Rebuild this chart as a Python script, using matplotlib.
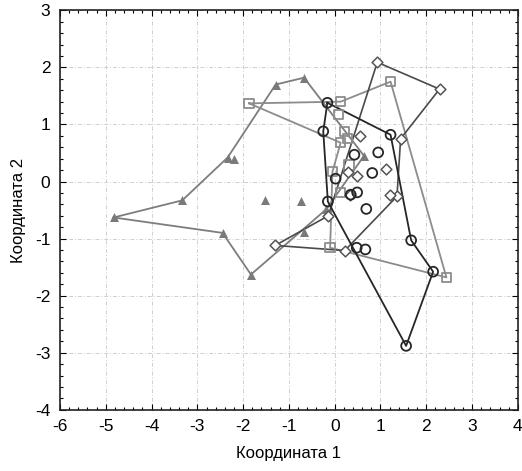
import matplotlib
matplotlib.use("Agg")
import matplotlib.pyplot as plt
from matplotlib.ticker import MultipleLocator

plt.rcParams['font.family'] = ['Liberation Sans', 'DejaVu Sans']
plt.rcParams['axes.unicode_minus'] = False

# Group 1: filled triangles
tri_x = [-4.83, -3.33, -2.34, -2.21, -1.29, -0.67, 0.64, -0.19, -1.83, -2.45, -1.52, -0.73, -0.68]
tri_y = [-0.63, -0.33, 0.42, 0.39, 1.70, 1.82, 0.45, -0.49, -1.63, -0.90, -0.32, -0.34, -0.88]
tri_outline = [0, 1, 2, 4, 5, 6, 7, 8, 9, 0]

# Group 2: open squares
sq_x = [-1.87, 0.13, 1.22, 2.44, -0.10, -0.05, 0.13, 0.08, 0.22, 0.28, 0.31, 0.13]
sq_y = [1.37, 1.40, 1.75, -1.68, -1.16, 0.17, 0.68, 1.18, 0.88, 0.75, 0.29, -0.19]
sq_outline = [0, 1, 2, 3, 4, 5, 6, 0]

# Group 3: open diamonds
di_x = [0.93, 2.29, 1.44, 1.36, 0.22, -1.30, -0.14, 0.56, 1.11, 0.49, 0.28, 0.33, 1.20]
di_y = [2.09, 1.62, 0.75, -0.26, -1.21, -1.12, -0.60, 0.80, 0.22, 0.09, 0.16, -0.24, -0.24]
di_outline = [0, 1, 2, 3, 4, 5, 6, 0]

# Group 4: open circles
ci_x = [-0.16, 1.22, 1.67, 2.15, 1.56, -0.15, -0.25, 0.43, 0.95, 0.82, 0.02, 0.49, 0.35, 0.69, 0.48, 0.67]
ci_y = [1.38, 0.82, -1.03, -1.58, -2.88, -0.35, 0.88, 0.47, 0.51, 0.15, 0.05, -0.19, -0.23, -0.48, -1.16, -1.19]
ci_outline = [0, 1, 2, 3, 4, 5, 6, 0]

fig = plt.figure(figsize=(5.22, 4.71), dpi=100)
ax = fig.add_axes([0.115, 0.13, 0.877, 0.848])

def outline(xs, ys, idx, color, lw):
    ax.plot([xs[i] for i in idx], [ys[i] for i in idx], color=color, lw=lw, zorder=2)

outline(tri_x, tri_y, tri_outline, '#7d7d7d', 1.3)
outline(sq_x, sq_y, sq_outline, '#8c8c8c', 1.3)
outline(di_x, di_y, di_outline, '#4a4a4a', 1.2)
outline(ci_x, ci_y, ci_outline, '#262626', 1.3)

ax.scatter(tri_x, tri_y, marker='^', s=42, color='#7a7a7a', zorder=3, linewidths=0)
ax.scatter(sq_x, sq_y, marker='s', s=45, facecolors='none', edgecolors='#8c8c8c', linewidths=1.3, zorder=3)
ax.scatter(di_x, di_y, marker='D', s=30, facecolors='white', edgecolors='#555555', linewidths=1.1, zorder=4)
ax.scatter(ci_x, ci_y, marker='o', s=50, facecolors='none', edgecolors='#262626', linewidths=1.3, zorder=4)

ax.set_xlim(-6, 4)
ax.set_ylim(-4, 3)
ax.xaxis.set_major_locator(MultipleLocator(1))
ax.yaxis.set_major_locator(MultipleLocator(1))
ax.xaxis.set_minor_locator(MultipleLocator(0.2))
ax.yaxis.set_minor_locator(MultipleLocator(0.2))
ax.tick_params(which='both', direction='in', top=True, right=True, labelsize=12.5, width=0.8)
ax.tick_params(which='major', length=4, pad=7)
ax.tick_params(which='minor', length=2)
ax.grid(True, which='major', linestyle=(0, (4, 2, 1, 2)), color='#cfcfcf', lw=0.7)
ax.set_axisbelow(True)
for sp in ax.spines.values():
    sp.set_linewidth(1.2)
    sp.set_color('#222222')

ax.set_xlabel('Координата 1', fontsize=12, labelpad=8)
ax.set_ylabel('Координата 2', fontsize=12, labelpad=6)

fig.savefig('out.png', dpi=100)
